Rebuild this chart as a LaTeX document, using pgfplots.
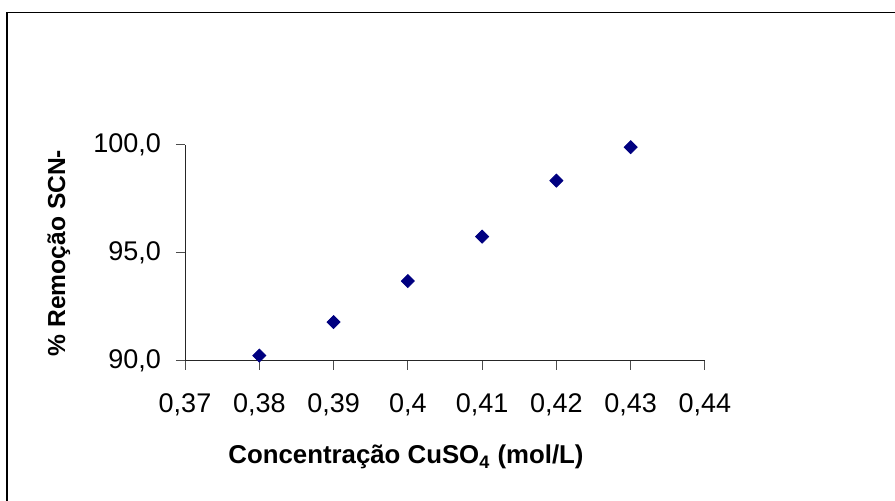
\documentclass[border=0pt]{standalone}
\usepackage{pgfplots}
\pgfplotsset{compat=1.18}
\usepackage{fontspec}
\setmainfont{Liberation Sans}
\definecolor{navymark}{RGB}{0,0,128}

\begin{document}
\begin{tikzpicture}
\useasboundingbox (0,0) rectangle (447.5pt,250.5pt);
% chart area border (runs off the page at right and bottom)
\draw[line width=0.7pt] (3.5pt,-20pt) -- (3.5pt,244.25pt) -- (470pt,244.25pt);

\begin{axis}[
    at={(92.5pt,70pt)}, anchor=south west,
    scale only axis,
    width=260pt, height=108pt,
    xmin=0.37, xmax=0.44,
    ymin=90, ymax=100,
    xtick={0.37,0.38,0.39,0.40,0.41,0.42,0.43,0.44},
    ytick={90,95,100},
    axis lines*=left,
    axis line style={black!85, line width=0.5pt},
    tick style={black!70, line width=0.5pt},
    tick align=outside,
    major tick length=4.5pt,
    /pgf/number format/assume math mode=true,
    xticklabel style={font=\fontsize{13.5}{16}\selectfont, yshift=-8.5pt,
        /pgf/number format/.cd, fixed, precision=2, use comma},
    yticklabel style={font=\fontsize{13.5}{16}\selectfont, xshift=-4pt,
        /pgf/number format/.cd, fixed, fixed zerofill, precision=1, use comma},
    clip=false,
]
\addplot[only marks, mark=square*, mark size=2.3pt,
    mark options={rotate=45, fill=navymark, draw=navymark}] coordinates {
  (0.38, 90.25)
  (0.39, 91.80)
  (0.40, 93.70)
  (0.41, 95.76)
  (0.42, 98.35)
  (0.43, 99.90)
};
\end{axis}

\node[anchor=base, font=\fontsize{12.9}{15}\selectfont\bfseries] at (203pt,18.5pt)
  {Concentração CuSO\textsubscript{4} (mol/L)};
\node[anchor=base, rotate=90, font=\fontsize{12.3}{15}\selectfont\bfseries] at (32.5pt,124pt)
  {\% Remoção SCN-};
\end{tikzpicture}
\end{document}
